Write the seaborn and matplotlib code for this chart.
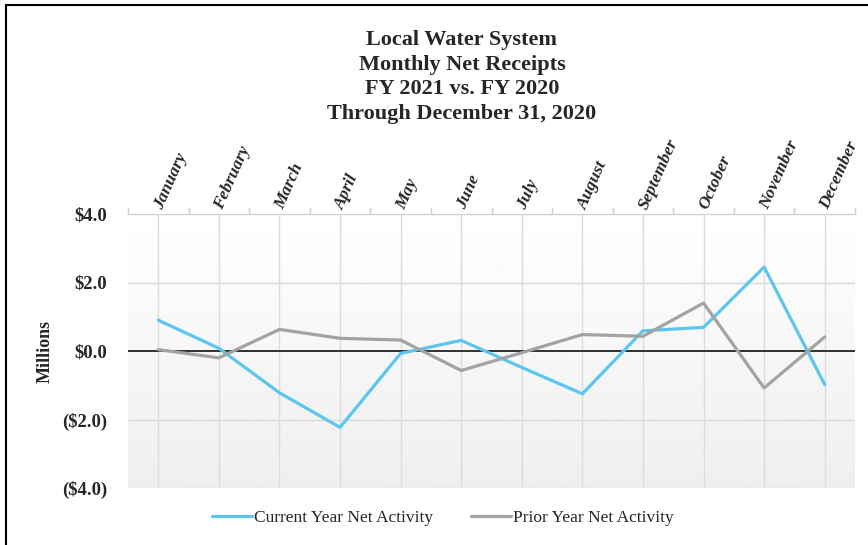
import matplotlib
matplotlib.use("Agg")
import matplotlib.pyplot as plt
import matplotlib.patches as mpatches
from matplotlib.ticker import FuncFormatter, FixedLocator
import seaborn as sns
import pandas as pd
import numpy as np

months = ["January", "February", "March", "April", "May", "June", "July",
          "August", "September", "October", "November", "December"]
current_year = [0.90, 0.08, -1.22, -2.23, -0.07, 0.31, -0.48, -1.25, 0.59, 0.69, 2.45, -0.98]
prior_year = [0.04, -0.20, 0.63, 0.37, 0.32, -0.57, -0.05, 0.48, 0.43, 1.40, -1.08, 0.41]
series_names = ["Current Year Net Activity", "Prior Year Net Activity"]
title_lines = ["Local Water System", "Monthly Net Receipts", "FY 2021 vs. FY 2020",
               "Through December 31, 2020"]

df = pd.DataFrame({
    "idx": list(range(len(months))) * 2,
    "value": current_year + prior_year,
    "series": [series_names[0]] * len(months) + [series_names[1]] * len(months),
})

sns.set_style("white")
plt.rcParams["font.family"] = ["Liberation Serif", "DejaVu Serif"]

fig = plt.figure(figsize=(8.68, 5.45), dpi=100)
ax = fig.add_axes([128 / 868, 1 - 488 / 545, (855 - 128) / 868, (488 - 214) / 545])

# gradient background
grad = np.linspace(1.0, 0.935, 256).reshape(-1, 1)
ax.imshow(grad, cmap="gray", vmin=0, vmax=1, aspect="auto",
          extent=[-0.5, 11.5, -4, 4], zorder=0, origin="upper")

palette = {series_names[0]: "#5cc6ef", series_names[1]: "#a3a3a3"}
sns.lineplot(data=df, x="idx", y="value", hue="series", palette=palette,
             linewidth=2.3, ax=ax, legend=True, zorder=3)

ax.axhline(0, color="#303030", linewidth=1.4, zorder=2)

ax.set_xlim(-0.5, 11.5)
ax.set_ylim(-4, 4)
ax.set_xlabel("")
ax.set_ylabel("Millions", fontsize=13, fontweight="bold", labelpad=6)

# grid
for y in [-4, -2, 2, 4]:
    ax.axhline(y, color="#d9d9d9", linewidth=1.0, zorder=1)
for i in range(len(months)):
    ax.axvline(i, color="#dcdcdc", linewidth=1.0, zorder=1)

ax.set_yticks([-4, -2, 0, 2, 4])
ax.yaxis.set_major_formatter(FuncFormatter(
    lambda v, p: f"\\${v:.1f}" if v >= 0 else f"(\\${-v:.1f})"))
ax.tick_params(axis="y", length=0, pad=15, labelsize=13.5)
for t in ax.get_yticklabels():
    t.set_fontweight("bold")

ax.set_xticks(range(len(months)))
ax.set_xticklabels(months, fontsize=12.5, fontweight="bold", fontstyle="italic",
                   rotation=66, ha="left", va="center", rotation_mode="anchor")
ax.xaxis.set_ticks_position("top")
ax.tick_params(axis="x", which="major", length=0, pad=4, labeltop=True, labelbottom=False)
ax.xaxis.set_minor_locator(FixedLocator(np.arange(-0.5, 12, 1)))
ax.tick_params(axis="x", which="minor", length=5, color="#d0d0d0", width=1, top=True, bottom=False)

for s in ["left", "right", "bottom"]:
    ax.spines[s].set_visible(False)
ax.spines["top"].set_color("#d0d0d0")

handles, labels = ax.get_legend_handles_labels()
ax.get_legend().remove()
fig.legend(handles, labels, loc="center", bbox_to_anchor=(443 / 868, 1 - 518 / 545),
           ncol=2, frameon=False, fontsize=12.5, handlelength=2.3, handletextpad=0.1,
           columnspacing=2.2)

fig.text(462 / 868, 1 - 30 / 545, "\n".join(title_lines), ha="center", va="top",
         fontsize=16, fontweight="bold", linespacing=1.31)

# outer frame
frame = mpatches.Rectangle((6 / 868, -0.1), 1.2, 1 - 5 / 545 + 0.1, transform=fig.transFigure,
                           fill=False, edgecolor="black", linewidth=1.5)
fig.patches.append(frame)

fig.savefig("out.png", dpi=100)
